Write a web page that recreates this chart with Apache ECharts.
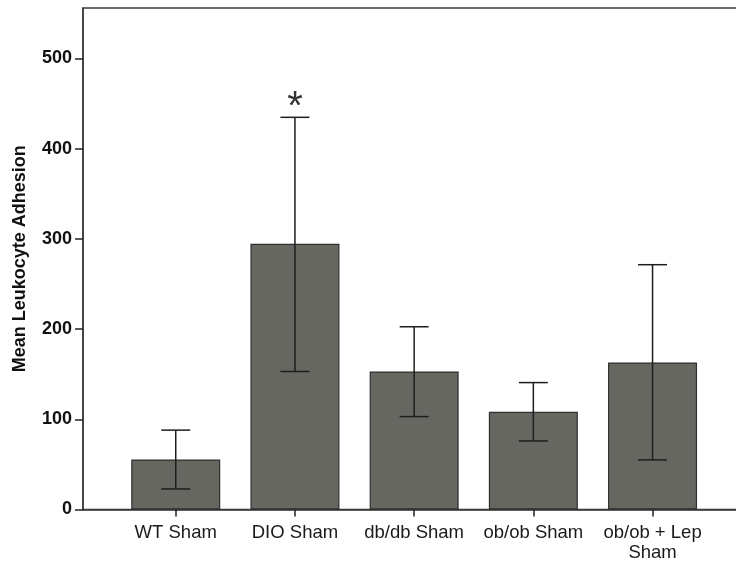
<!DOCTYPE html>
<html>
<head>
<meta charset="utf-8">
<script src="https://cdn.jsdelivr.net/npm/echarts@6/dist/echarts.min.js"></script>
<style>html,body{margin:0;padding:0;background:#fff}#c{width:736px;height:561px}</style>
</head>
<body>
<div id="c"></div>
<script>
const categories = ['WT Sham', 'DIO Sham', 'db/db Sham', 'ob/ob Sham', 'ob/ob + Lep\nSham'];
const means = [55.5, 294.7, 153, 108.3, 163];
const errLow = [22.8, 153, 103, 76, 55];
const errHigh = [88, 434.8, 202.6, 140.7, 271.4];
const significance = ['', '*', '', '', ''];
const yTicks = [0, 100, 200, 300, 400, 500];

const positions = categories.map((c, i) => i + 1);
const barData = positions.map((p, i) => [p, means[i]]);
const errData = positions.map((p, i) => [p, errLow[i], errHigh[i]]);

const chart = echarts.init(document.getElementById('c'), null, {renderer: 'canvas'});
chart.setOption({
  animation: false,
  backgroundColor: '#fff',
  grid: {left: 83, top: 8, right: -10, bottom: 51.5, outerBoundsMode: 'none', containLabel: false, show: true, borderColor: '#3a3a3a', borderWidth: 1.5, backgroundColor: 'transparent'},
  xAxis: {
    type: 'value', min: 0.222, max: 5.784,
    splitLine: {show: false},
    axisLine: {show: true, lineStyle: {color: '#3a3a3a', width: 1.5}},
    axisTick: {show: true, customValues: positions, length: 7, lineStyle: {color: '#222', width: 1.5}},
    axisLabel: {
      customValues: positions, margin: 13,
      formatter: v => categories[Math.round(v) - 1] || '',
      fontFamily: 'Liberation Sans, Arial, sans-serif', fontSize: 18.5, color: '#1a1a1a', lineHeight: 20, align: 'center'
    }
  },
  yAxis: {
    type: 'value', min: 0, max: 556,
    name: 'Mean Leukocyte Adhesion', nameLocation: 'middle', nameGap: 54, nameRotate: 90,
    nameTextStyle: {fontFamily: 'Liberation Sans, Arial, sans-serif', fontSize: 18, fontWeight: 'bold', color: '#111'},
    splitLine: {show: false},
    axisLine: {show: true, lineStyle: {color: '#3a3a3a', width: 1.5}},
    axisTick: {show: true, customValues: yTicks, length: 8, lineStyle: {color: '#222', width: 1.5}},
    axisLabel: {customValues: yTicks, margin: 11, fontFamily: 'Liberation Sans, Arial, sans-serif', fontSize: 18, fontWeight: 'bold', color: '#111'}
  },
  series: [
    {
      type: 'bar', data: barData, barWidth: 89,
      itemStyle: {color: '#676762', borderColor: '#2e2e2e', borderWidth: 1.2}
    },
    {
      type: 'custom', data: errData, z: 10,
      renderItem: function (params, api) {
        const x = api.value(0), lo = api.value(1), hi = api.value(2);
        const pLo = api.coord([x, lo]), pHi = api.coord([x, hi]);
        const cap = 14.5;
        const style = {stroke: '#1e1e1e', lineWidth: 1.5};
        const children = [
          {type: 'line', shape: {x1: pLo[0], y1: pLo[1], x2: pHi[0], y2: pHi[1]}, style: style},
          {type: 'line', shape: {x1: pLo[0] - cap, y1: pLo[1], x2: pLo[0] + cap, y2: pLo[1]}, style: style},
          {type: 'line', shape: {x1: pHi[0] - cap, y1: pHi[1], x2: pHi[0] + cap, y2: pHi[1]}, style: style}
        ];
        const s = significance[params.dataIndex];
        if (s) {
          children.push({type: 'text', x: pHi[0], y: pHi[1] + 11, style: {text: s, fill: '#333', font: '40px Liberation Sans, Arial, sans-serif', align: 'center', verticalAlign: 'bottom'}});
        }
        return {type: 'group', children: children};
      }
    }
  ]
});
</script>
</body>
</html>
